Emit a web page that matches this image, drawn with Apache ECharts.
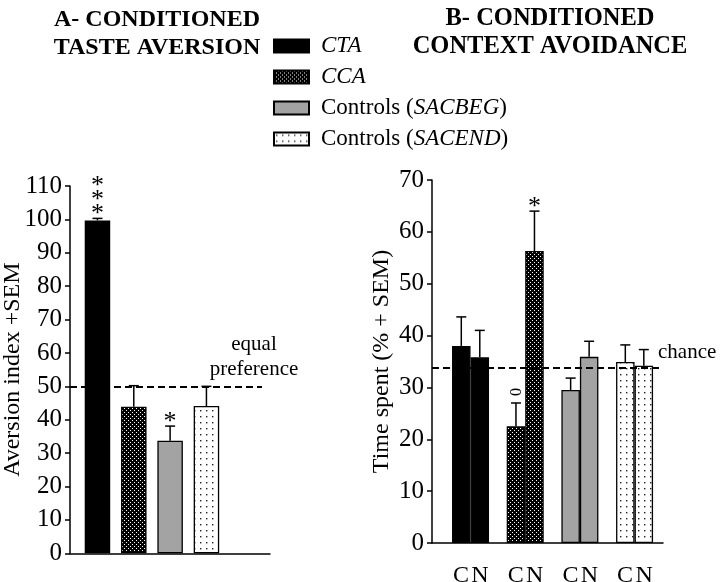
<!DOCTYPE html>
<html><head><meta charset="utf-8">
<script src="https://cdn.jsdelivr.net/npm/echarts@6/dist/echarts.min.js"></script>
<style>html,body{margin:0;padding:0;background:#fff}#c{width:720px;height:582px}</style>
</head><body><div id="c"></div>
<script>
// ---------- data ----------
const groups = ['CTA', 'CCA', 'Controls (SACBEG)', 'Controls (SACEND)'];
const aversionMean = [99.7, 43.9, 33.7, 44.1];
const aversionSem = [0.6, 6.3, 4.4, 5.9];
const aversionSig = ['***', '', '*', ''];
const timeC = [38.0, 22.5, 29.5, 34.9];
const timeCSem = [5.6, 4.5, 2.3, 3.3];
const timeN = [35.8, 56.3, 35.9, 34.2];
const timeNSem = [5.2, 7.7, 3.0, 3.1];
const timeCSig = ['', '0', '', ''];
const timeNSig = ['', '*', '', ''];
const sideLabels = ['C', 'N'];
const equalPreference = 50;
const chanceLevel = 33.7;
const aversionAxis = [0, 110, 10];
const timeAxis = [0, 70, 10];
const titleA = 'A- CONDITIONED\nTASTE AVERSION';
const titleB = 'B- CONDITIONED\nCONTEXT AVOIDANCE';
const yNameA = 'Aversion index +SEM';
const yNameB = 'Time spent (% + SEM)';
const equalLabel = 'equal\npreference';
const chanceLabel = 'chance';

// ---------- styles ----------
const FONT = '"Liberation Serif", "Times New Roman", serif';
function pattern(bg, fg, size, dots, d) {
  const c = document.createElement('canvas');
  c.width = size; c.height = size;
  const g = c.getContext('2d');
  g.fillStyle = bg; g.fillRect(0, 0, size, size);
  g.fillStyle = fg;
  dots.forEach(p => g.fillRect(p[0], p[1], d, d));
  return { image: c, repeat: 'repeat' };
}
const fills = [
  '#000000',
  pattern('#000000', '#ffffff', 4, [[0, 0], [2, 2]], 1),
  '#a3a3a3',
  pattern('#ffffff', '#222222', 6, [[2, 2]], 1.4)
];
const barBorder = { borderColor: '#000', borderWidth: 1.3 };
const leftBarW = 25.5, rightBarW = 18.5;

function errorSeries(xi, yi, means, sems, sigs, offset) {
  return {
    type: 'custom', xAxisIndex: xi, yAxisIndex: yi, silent: true, z: 5,
    data: means.map((m, i) => [i, m, m + sems[i]]),
    renderItem(params, api) {
      const base = api.coord([api.value(0), api.value(1)]);
      const top = api.coord([api.value(0), api.value(2)]);
      const x = base[0] + offset;
      const ls = { stroke: '#000', lineWidth: 1.5 };
      const kids = [
        { type: 'line', shape: { x1: x, y1: base[1], x2: x, y2: top[1] }, style: ls },
        { type: 'line', shape: { x1: x - 5, y1: top[1], x2: x + 5, y2: top[1] }, style: ls }
      ];
      const sig = sigs[params.dataIndex];
      if (sig === '0') {
        kids.push({ type: 'text', x: x + 1, y: top[1] - 11, rotation: Math.PI / 2,
          style: { text: '0', font: '16px ' + FONT, fill: '#000', align: 'center', verticalAlign: 'middle' } });
      } else if (sig) {
        for (let k = 0; k < sig.length; k++) {
          kids.push({ type: 'text', x: x, y: top[1] - 4 - k * 14,
            style: { text: '*', font: '26px ' + FONT, fill: '#000', align: 'center', verticalAlign: 'middle' } });
        }
      }
      return { type: 'group', children: kids };
    }
  };
}

const series = [];
groups.forEach((g, gi) => {
  series.push({
    type: 'bar', name: g, xAxisIndex: 1, yAxisIndex: 1, stack: 'L', barWidth: leftBarW,
    data: aversionMean.map((v, i) => i === gi ? v : '-'),
    itemStyle: Object.assign({ color: fills[gi] }, barBorder)
  });
});
groups.forEach((g, gi) => {
  series.push({
    type: 'bar', name: g, xAxisIndex: 3, yAxisIndex: 3, stack: 'C', barWidth: rightBarW, barGap: '0%',
    data: timeC.map((v, i) => i === gi ? v : '-'),
    itemStyle: Object.assign({ color: fills[gi] }, barBorder)
  });
  series.push({
    type: 'bar', name: g, xAxisIndex: 3, yAxisIndex: 3, stack: 'N', barWidth: rightBarW, barGap: '0%',
    data: timeN.map((v, i) => i === gi ? v : '-'),
    itemStyle: Object.assign({ color: fills[gi] }, barBorder)
  });
});
series.push(errorSeries(1, 1, aversionMean, aversionSem, aversionSig, 0));
series.push(errorSeries(3, 3, timeC, timeCSem, timeCSig, -rightBarW / 2));
series.push(errorSeries(3, 3, timeN, timeNSem, timeNSig, rightBarW / 2));

const dashStyle = { type: [7, 4], color: '#000', width: 2 };
series.push({
  type: 'line', xAxisIndex: 0, yAxisIndex: 0, data: [], silent: true,
  markLine: {
    symbol: 'none', silent: true, lineStyle: dashStyle, animation: false,
    label: { show: true, position: 'end', formatter: equalLabel, align: 'center', verticalAlign: 'bottom',
      offset: [-13, -4], fontFamily: FONT, fontSize: 21, lineHeight: 25, color: '#000' },
    data: [[{ coord: [0, equalPreference] }, { coord: [0.96, equalPreference] }]]
  }
});
series.push({
  type: 'line', xAxisIndex: 2, yAxisIndex: 2, data: [], silent: true,
  markLine: {
    symbol: 'none', silent: true, lineStyle: dashStyle, animation: false,
    label: { show: true, position: 'end', formatter: chanceLabel, align: 'left', verticalAlign: 'middle',
      offset: [-10, -16], fontFamily: FONT, fontSize: 21, color: '#000' },
    data: [[{ coord: [0, chanceLevel] }, { coord: [1, chanceLevel] }]]
  }
});

const axLine = { show: true, lineStyle: { color: '#000', width: 1.5 } };
const yLabel = { fontFamily: FONT, fontSize: 25, color: '#000', margin: 8 };
function frameY(grid, ax, name, gap) {
  return { type: 'value', gridIndex: grid, min: ax[0], max: ax[1], interval: ax[2],
    axisLine: axLine, axisTick: { show: true, length: 5, lineStyle: { color: '#000', width: 1.5 } },
    splitLine: { show: false }, axisLabel: yLabel,
    name: name, nameLocation: 'middle', nameGap: gap, nameMoveOverlap: false,
    nameTextStyle: { fontFamily: FONT, fontSize: 24, color: '#000' } };
}
function hiddenY(grid, ax) {
  return { type: 'value', gridIndex: grid, min: ax[0], max: ax[1], interval: ax[2], show: false, splitLine: { show: false } };
}
function frameX(grid) {
  return { type: 'value', gridIndex: grid, min: 0, max: 1, axisLine: axLine, axisTick: { show: false },
    axisLabel: { show: false }, splitLine: { show: false } };
}

const option = {
  animation: false,
  backgroundColor: '#fff',
  title: [
    { text: titleA, left: 152, top: 1, textAlign: 'center',
      textStyle: { fontFamily: FONT, fontWeight: 'bold', fontSize: 24, lineHeight: 28, color: '#000' } },
    { text: titleB, left: 545, top: 0, textAlign: 'center',
      textStyle: { fontFamily: FONT, fontWeight: 'bold', fontSize: 24.5, lineHeight: 28, color: '#000' } }
  ],
  legend: {
    orient: 'vertical', left: 273, top: 34, padding: 0, itemWidth: 35, itemHeight: 13, itemGap: 7,
    selectedMode: false,
    data: groups.map(n => ({ name: n, icon: 'rect' })),
    formatter: n => n.startsWith('Controls') ? 'Controls ({i|' + n.slice(10, -1) + '})' : '{i|' + n + '}',
    textStyle: { fontFamily: FONT, fontSize: 23, lineHeight: 24, color: '#000', padding: [0, 0, 0, 7],
      rich: { i: { fontFamily: FONT, fontSize: 23, fontStyle: 'italic', color: '#000' } } }
  },
  grid: [
    { left: 70, width: 200, top: 186, bottom: 28.7, outerBoundsMode: 'none' },
    { left: 79.3, width: 145.3, top: 186, bottom: 28.7, outerBoundsMode: 'none' },
    { left: 432, width: 231, top: 180, bottom: 39, outerBoundsMode: 'none' },
    { left: 443.2, width: 218.7, top: 180, bottom: 39, outerBoundsMode: 'none' }
  ],
  xAxis: [
    frameX(0),
    { type: 'category', gridIndex: 1, data: groups, show: false },
    frameX(2),
    { type: 'category', gridIndex: 3, data: groups, axisLine: { show: false }, axisTick: { show: false },
      axisLabel: { interval: 0, margin: 21, formatter: () => '{c|' + sideLabels[0] + '}{n|' + sideLabels[1] + '}',
        rich: { c: { width: 19, align: 'center', fontFamily: FONT, fontSize: 24, color: '#000' },
                n: { width: 19, align: 'center', fontFamily: FONT, fontSize: 24, color: '#000' } } } }
  ],
  yAxis: [
    frameY(0, aversionAxis, yNameA, 45),
    hiddenY(1, aversionAxis),
    frameY(2, timeAxis, yNameB, 38),
    hiddenY(3, timeAxis)
  ],
  series: series
};
const chart = echarts.init(document.getElementById('c'), null, { renderer: 'canvas' });
chart.setOption(option);
</script></body></html>
